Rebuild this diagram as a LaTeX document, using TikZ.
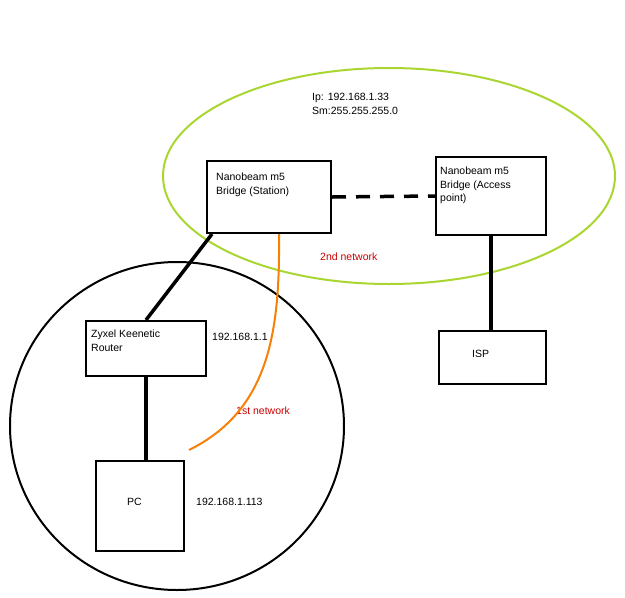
\documentclass[tikz,border=0pt]{standalone}
\usepackage{fontspec}
\setmainfont{Liberation Sans}
\definecolor{lime}{RGB}{170,214,50}
\begin{document}
\begin{tikzpicture}[x=1pt,y=-1pt,
 box/.style={draw,line width=2pt,anchor=north west,inner sep=0pt},
 lbl/.style={anchor=north west,inner sep=0pt,font=\fontsize{10.5}{13.5}\selectfont,align=left},
 red/.style={text=red!80!black},
 link/.style={line width=3.5pt}]
\useasboundingbox (0,0) rectangle (625,598);
\fill[white] (0,0) rectangle (625,598);
\draw[line width=2pt,lime] (389,176) ellipse [x radius=226,y radius=108];
\draw[line width=2pt] (177,426) ellipse [x radius=167,y radius=164];
\node[box,minimum width=124pt,minimum height=72pt] (st) at (206,160) {};
\node[box,minimum width=110pt,minimum height=78pt] (ap) at (435,156) {};
\node[box,minimum width=107pt,minimum height=53pt] (isp) at (438,330) {};
\node[box,minimum width=120pt,minimum height=55pt] (zy) at (85,320) {};
\node[box,minimum width=88pt,minimum height=90pt] (pc) at (95,460) {};
\node[lbl] at (216,173) {Nanobeam m5\\Bridge (Station)};
\node[lbl] at (440,167) {Nanobeam m5\\Bridge (Access\\point)};
\node[lbl] (ispt) at (472,350) {ISP};
\node[lbl] at (91,330) {Zyxel Keenetic\\Router};
\node[lbl] at (127,498) {PC};
\node[lbl] at (312,93) {Ip: 192.168.1.33\\Sm:255.255.255.0};
\node[lbl,red] at (320,253) {2nd network};
\node[lbl,red] at (236,407) {1st network};
\node[lbl] at (212,333) {192.168.1.1};
\node[lbl] at (196,498) {192.168.1.113};
\draw[link,dash pattern=on 14pt off 10pt] (st.east) -- (ap.west);
\draw[link] ([xshift=6pt]st.south west) -- (zy.north);
\draw[link] (ap.south) -- (ap.south |- isp.north);
\draw[link] (zy.south) -- (zy.south |- pc.north);
\draw[line width=2pt,orange!90!brown] ([xshift=-53pt]st.south east) .. controls (280,330) and (270,410) .. ([xshift=4pt,yshift=10pt]pc.north east);
\end{tikzpicture}
\end{document}
